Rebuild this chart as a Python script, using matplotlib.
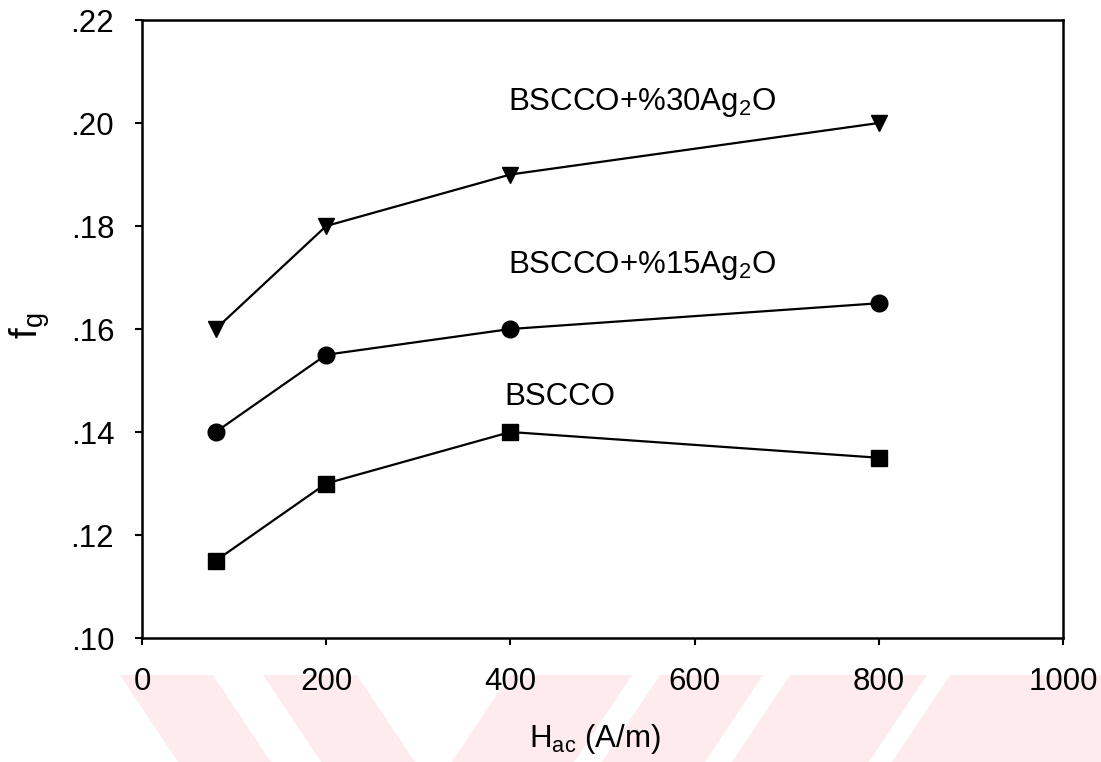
import matplotlib
matplotlib.use("Agg")
import matplotlib.pyplot as plt
from matplotlib.patches import Polygon
from matplotlib.ticker import FuncFormatter

# Field amplitude (A/m)
h_ac = [80, 200, 400, 800]

# f_g for each sample
f_bscco = [0.115, 0.130, 0.140, 0.135]
f_ag15 = [0.140, 0.155, 0.160, 0.165]
f_ag30 = [0.160, 0.180, 0.190, 0.200]

x_ticks = [0, 200, 400, 600, 800, 1000]
y_ticks = [0.10, 0.12, 0.14, 0.16, 0.18, 0.20, 0.22]

plt.rcParams["font.family"] = ["Liberation Sans", "DejaVu Sans"]
plt.rcParams["mathtext.fontset"] = "custom"
plt.rcParams["mathtext.rm"] = "Liberation Sans"
plt.rcParams["mathtext.it"] = "Liberation Sans"
plt.rcParams["mathtext.default"] = "rm"

W, H = 1101, 762
fig = plt.figure(figsize=(W / 100, H / 100), dpi=100)

# faint pink background logo stripes along the bottom edge (pixel coords)
pink = "#feebee"
stripes = [
    [(120, 675), (213, 675), (271, 762), (178, 762)],
    [(263, 675), (357, 675), (415, 762), (321, 762)],
    [(510, 675), (632, 675), (574, 762), (452, 762)],
    [(660, 675), (763, 675), (705, 762), (602, 762)],
    [(790, 675), (927, 675), (869, 762), (732, 762)],
    [(950, 675), (1101, 675), (1101, 762), (892, 762)],
]
for pts in stripes:
    fig.patches.append(Polygon([(x / W, 1 - y / H) for x, y in pts],
                               closed=True, transform=fig.transFigure,
                               facecolor=pink, edgecolor="none", zorder=-5))

ax = fig.add_axes([142 / W, 1 - 638 / H, (1063 - 142) / W, (638 - 20) / H])
ax.set_zorder(2)
ax.set_facecolor("none")

kw = dict(color="black", linewidth=1.6)
ax.plot(h_ac, f_bscco, marker="s", markersize=11, **kw)
ax.plot(h_ac, f_ag15, marker="o", markersize=12, **kw)
ax.plot(h_ac, f_ag30, marker="v", markersize=12, **kw)

ax.set_xlim(0, 1000)
ax.set_ylim(0.10, 0.22)
ax.set_xticks(x_ticks)
ax.set_yticks(y_ticks)
ax.yaxis.set_major_formatter(FuncFormatter(lambda v, p: f"{v:.2f}".lstrip("0")))

for s in ax.spines.values():
    s.set_linewidth(1.8)
ax.tick_params(direction="out", length=5, width=1.5, labelsize=22.5)
ax.tick_params(axis="x", pad=16)
ax.tick_params(axis="y", pad=15)

tfs = 22.5
ax.text(397, 0.2025, r"BSCCO+%30Ag$_2$O", fontsize=tfs, ha="left", va="baseline")
ax.text(397, 0.1709, r"BSCCO+%15Ag$_2$O", fontsize=tfs, ha="left", va="baseline")
ax.text(394, 0.1453, "BSCCO", fontsize=tfs, ha="left", va="baseline")

ax.set_ylabel(r"f$_\mathrm{g}$", fontsize=28)
ax.yaxis.set_label_coords(-0.098, 0.506)
ax.set_xlabel(r"H$_\mathrm{ac}$ (A/m)", fontsize=22.5)
ax.xaxis.set_label_coords(0.492, -0.136)

fig.savefig("out.png", dpi=100)
